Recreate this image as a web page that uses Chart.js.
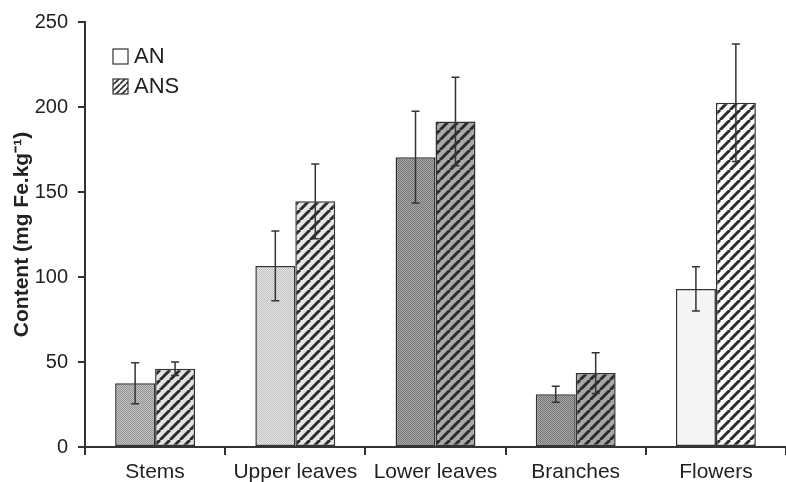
<!DOCTYPE html>
<html lang="en">
<head>
    <meta charset="UTF-8">
    <title>Fe content</title>
    <script src="https://cdn.jsdelivr.net/npm/chart.js"></script>
    <style>
        html, body { margin: 0; padding: 0; background: #fff; }
        #wrap { width: 786px; height: 482px; position: relative; }
    </style>
</head>
<body>
    <div id="wrap"><canvas id="feChart"></canvas></div>

    <script>
        // plant parts and mean Fe content (mg Fe/kg) with error
        const parts = ['Stems', 'Upper leaves', 'Lower leaves', 'Branches', 'Flowers'];
        const anValues = [37.5, 106.5, 170.5, 31, 93];
        const anErrors = [12, 20.5, 27, 4.7, 13];
        const ansValues = [46, 144.5, 191.5, 43.5, 202.5];
        const ansErrors = [4, 22, 26, 12, 34.5];
        const yTicks = [0, 50, 100, 150, 200, 250];

        // grey tones (light/dark pairs) of the plain bars, and the background under the hatching
        const anFills = [['#c4c4c4', '#929292'], ['#e4e4e4', '#c2c2c2'], ['#a8a8a8', '#767676'], ['#a8a8a8', '#767676'], ['#fafafa', '#efefef']];
        const ansBacks = ['#e2e2e2', '#e6e6e6', '#a9a9a9', '#a6a6a6', '#fbfbfb'];

        const ink = '#333';
        const font = '"Liberation Sans", Arial, sans-serif';

        // fine checker, looks like a printed grey screen
        function screen(pair) {
            const c = document.createElement('canvas');
            c.width = 2; c.height = 2;
            const g = c.getContext('2d');
            g.fillStyle = pair[0];
            g.fillRect(0, 0, 2, 2);
            g.fillStyle = pair[1];
            g.fillRect(0, 0, 1, 1);
            g.fillRect(1, 1, 1, 1);
            return g.createPattern(c, 'repeat');
        }

        function hatch(bg, s, w) {
            const c = document.createElement('canvas');
            c.width = s; c.height = s;
            const g = c.getContext('2d');
            g.fillStyle = bg;
            g.fillRect(0, 0, s, s);
            g.strokeStyle = '#2b2b2b';
            g.lineWidth = w;
            g.beginPath();
            for (let k = -1; k <= 1; k++) {
                g.moveTo(k * s, s);
                g.lineTo(k * s + s, 0);
            }
            g.stroke();
            return g.createPattern(c, 'repeat');
        }

        const errorBars = {
            id: 'errorBars',
            afterDatasetsDraw(chart) {
                const ctx = chart.ctx;
                const y = chart.scales.y;
                const errs = [anErrors, ansErrors];
                ctx.save();
                ctx.strokeStyle = ink;
                ctx.lineWidth = 1.5;
                chart.data.datasets.forEach((ds, di) => {
                    chart.getDatasetMeta(di).data.forEach((bar, i) => {
                        const v = ds.data[i];
                        const e = errs[di][i];
                        const top = y.getPixelForValue(v + e);
                        const bot = y.getPixelForValue(v - e);
                        const x = bar.x;
                        ctx.beginPath();
                        ctx.moveTo(x, top); ctx.lineTo(x, bot);
                        ctx.moveTo(x - 4, top); ctx.lineTo(x + 4, top);
                        ctx.moveTo(x - 4, bot); ctx.lineTo(x + 4, bot);
                        ctx.stroke();
                    });
                });
                ctx.restore();
            }
        };

        const legendBox = {
            id: 'legendBox',
            afterDraw(chart) {
                const ctx = chart.ctx;
                const x0 = chart.chartArea.left + 28;
                const rows = [
                    { label: 'AN', fill: '#fff', y: chart.chartArea.top + 27 },
                    { label: 'ANS', fill: hatch('#fff', 6, 1.6), y: chart.chartArea.top + 57 }
                ];
                ctx.save();
                ctx.font = '22px ' + font;
                ctx.textBaseline = 'middle';
                rows.forEach(r => {
                    ctx.fillStyle = r.fill;
                    ctx.fillRect(x0, r.y, 15, 15);
                    ctx.strokeStyle = ink;
                    ctx.lineWidth = 1.2;
                    ctx.strokeRect(x0, r.y, 15, 15);
                    ctx.fillStyle = '#222';
                    ctx.fillText(r.label, x0 + 21, r.y + 8);
                });
                ctx.restore();
            }
        };

        const ctx = document.getElementById('feChart').getContext('2d');
        new Chart(ctx, {
            type: 'bar',
            data: {
                labels: parts,
                datasets: [
                    {
                        label: 'AN',
                        data: anValues,
                        backgroundColor: anFills.map(screen),
                        borderColor: ink,
                        borderWidth: 1.5,
                        borderSkipped: false
                    },
                    {
                        label: 'ANS',
                        data: ansValues,
                        backgroundColor: ansBacks.map(b => hatch(b, 10, 3)),
                        borderColor: ink,
                        borderWidth: 1.5,
                        borderSkipped: false
                    }
                ]
            },
            options: {
                responsive: true,
                maintainAspectRatio: false,
                animation: false,
                datasets: { bar: { barPercentage: 1, categoryPercentage: 0.57 } },
                layout: { padding: { top: 20, right: 0, left: 0, bottom: 0 } },
                plugins: {
                    legend: { display: false },
                    tooltip: { enabled: false }
                },
                scales: {
                    x: {
                        offset: true,
                        border: { display: true, color: ink, width: 2 },
                        grid: {
                            offset: true,
                            drawOnChartArea: false,
                            drawTicks: true,
                            tickLength: 8,
                            color: ink,
                            lineWidth: 2
                        },
                        ticks: {
                            color: '#222',
                            padding: 5,
                            font: { family: font, size: 21 }
                        },
                        afterFit(scale) { scale.height = 35; }
                    },
                    y: {
                        min: 0,
                        max: 250,
                        afterBuildTicks(scale) {
                            scale.ticks = yTicks.map(v => ({ value: v }));
                        },
                        border: { display: true, color: ink, width: 2 },
                        grid: {
                            drawOnChartArea: false,
                            drawTicks: true,
                            tickLength: 7,
                            color: ink,
                            lineWidth: 2
                        },
                        ticks: {
                            color: '#222',
                            padding: 10,
                            font: { family: font, size: 20 }
                        },
                        title: {
                            display: true,
                            text: 'Content (mg Fe.kg⁻¹)',
                            color: '#222',
                            padding: { top: 10, bottom: 0 },
                            font: { family: font, size: 21, weight: 'bold' }
                        },
                        afterFit(scale) { scale.width = 85; }
                    }
                }
            },
            plugins: [errorBars, legendBox]
        });
    </script>
</body>
</html>
